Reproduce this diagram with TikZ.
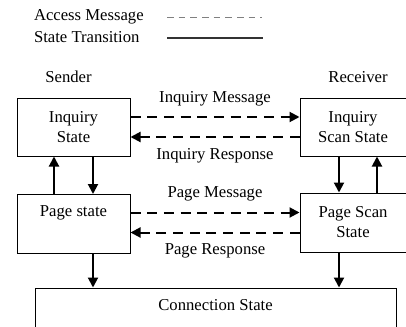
\documentclass[tikz,border=0pt]{standalone}
\usepackage{fontspec}
\setmainfont{Liberation Serif}
\usetikzlibrary{arrows.meta,positioning}

\begin{document}
\begin{tikzpicture}[
  x=0.6pt, y=-0.6pt,
  font=\fontsize{10}{12}\selectfont,
  statebox/.style={rectangle, draw=black, line width=0.6pt, fill=white,
    align=center, inner sep=2pt},
  msg/.style={-{Triangle[length=6pt,width=6pt]}, line width=1.2pt,
    dash pattern=on 6pt off 4pt},
  trans/.style={-{Triangle[length=6pt,width=6pt]}, line width=1.2pt},
  lbl/.style={font=\fontsize{10}{12}\selectfont, inner sep=1pt},
  node distance=4pt
]
\useasboundingbox (0,0) rectangle (406,326);

% legend
\node[lbl, anchor=west] (acc) at (32,17) {Access Message};
\node[lbl, anchor=west] (st) at (32,37) {State Transition};
\coordinate (accA) at (167,18);
\coordinate (accB) at (262,18);
\coordinate (stA) at (167,38);
\coordinate (stB) at (263,38);
\draw[gray, line width=0.6pt, dash pattern=on 4pt off 3pt] (accA) -- (accB);
\draw[black!80, line width=0.7pt] (stA) -- (stB);

% states
\node[statebox, minimum width=67.8pt, minimum height=34.8pt] (inq) at (73.5,127) {Inquiry\\State};
\node[statebox, minimum width=63.6pt, minimum height=34.8pt] (inqscan) at (353,127) {Inquiry\\Scan State};
\node[statebox, minimum width=67.8pt, minimum height=35.4pt] (page) at (73.5,224) {Page state\\\strut};
\node[statebox, minimum width=63.6pt, minimum height=35.4pt] (pagescan) at (353,222.5) {Page Scan\\State};
\node[statebox, minimum width=216.6pt, minimum height=36pt] (conn) at (215.5,318) {Connection State\\\strut};

\node[lbl, above=8pt of inq, xshift=-3pt] (sender) {Sender};
\node[lbl, above=8pt of inqscan, xshift=3pt] (receiver) {Receiver};

% messages
\draw[msg] ([yshift=6pt]inq.east) -- node[lbl, above=5pt] (im) {Inquiry Message} ([yshift=6pt]inqscan.west);
\draw[msg] ([yshift=-6pt]inqscan.west) -- node[lbl, below=5pt] (ir) {Inquiry Response} ([yshift=-6pt]inq.east);
\draw[msg] ([yshift=6pt]pagescan.west -| page.east) -- node[lbl, above=5pt] (pm) {Page Message} ([yshift=6pt]pagescan.west);
\draw[msg] ([yshift=-6pt]pagescan.west) -- node[lbl, below=5pt] (pr) {Page Response} ([yshift=-6pt]pagescan.west -| page.east);

% transitions
\draw[trans] ([xshift=-11.7pt]page.north) -- ([xshift=-11.7pt]inq.south);
\draw[trans] ([xshift=11.7pt]inq.south) -- ([xshift=11.7pt]page.north);
\draw[trans] ([xshift=-8.4pt]inqscan.south) -- ([xshift=-8.4pt]pagescan.north);
\draw[trans] ([xshift=14.4pt]pagescan.north) -- ([xshift=14.4pt]inqscan.south);
\draw[trans] ([xshift=11.7pt]page.south) -- ([xshift=11.7pt]page.south |- conn.north);
\draw[trans] ([xshift=-8.4pt]pagescan.south) -- ([xshift=-8.4pt]pagescan.south |- conn.north);
\end{tikzpicture}
\end{document}
